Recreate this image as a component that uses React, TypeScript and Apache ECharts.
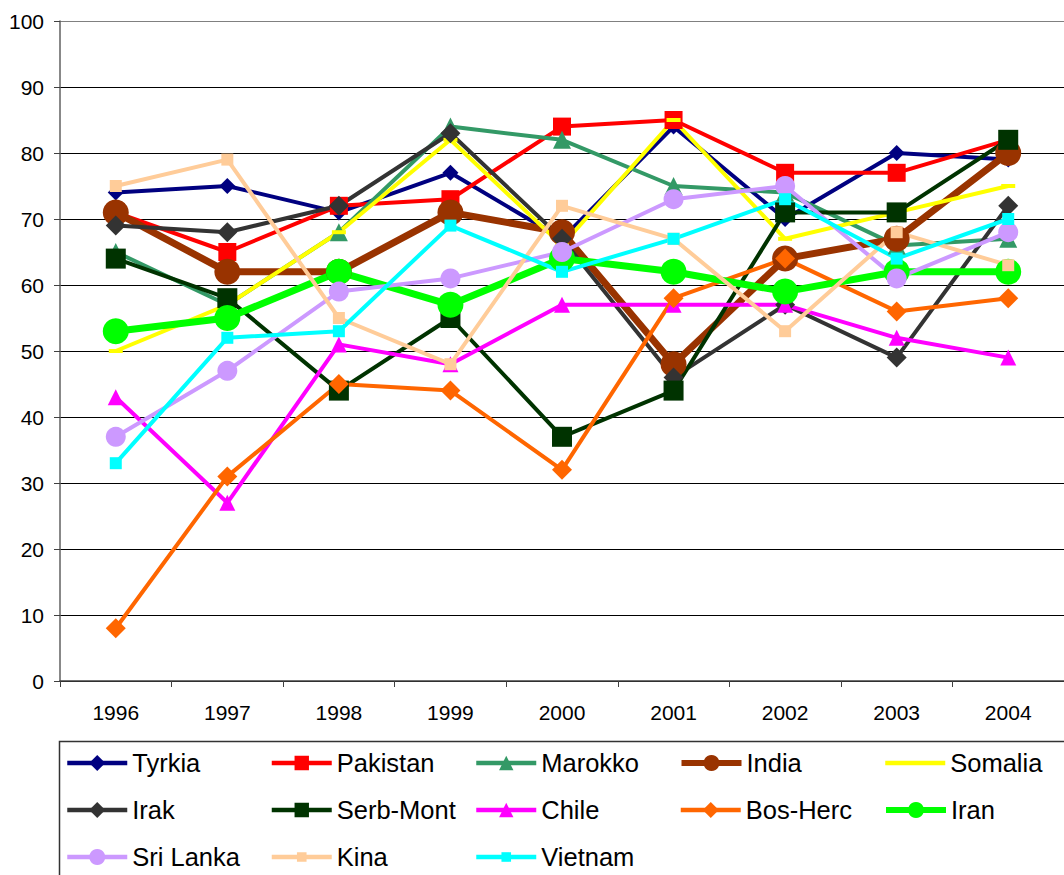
import React, { useEffect, useRef } from "react";
import * as echarts from "echarts";

const years = ["1996", "1997", "1998", "1999", "2000", "2001", "2002", "2003", "2004"];
const yTicks = { min: 0, max: 100, interval: 10 };

const names = ["Tyrkia", "Pakistan", "Marokko", "India", "Somalia", "Irak", "Serb-Mont", "Chile", "Bos-Herc", "Iran", "Sri Lanka", "Kina", "Vietnam"];

const tyrkia = [74, 75, 71, 77, 67, 84, 70, 80, 79];
const pakistan = [71, 65, 72, 73, 84, 85, 77, 77, 82];
const marokko = [65, 57, 68, 84, 82, 75, 74, 66, 67];
const india = [71, 62, 62, 71, 68, 48, 64, 67, 80];
const somalia = [50, 57, 68, 82, 66, 85, 67, 71, 75];
const irak = [69, 68, 72, 83, 67, 46, 57, 49, 72];
const serbMont = [64, 58, 44, 55, 37, 44, 71, 71, 82];
const chile = [43, 27, 51, 48, 57, 57, 57, 52, 49];
const bosHerc = [8, 31, 45, 44, 32, 58, 64, 56, 58];
const iran = [53, 55, 62, 57, 64, 62, 59, 62, 62];
const sriLanka = [37, 47, 59, 61, 65, 73, 75, 61, 68];
const kina = [75, 79, 55, 48, 72, 67, 53, 68, 63];
const vietnam = [33, 52, 53, 69, 62, 67, 73, 64, 70];

const seriesData = [tyrkia, pakistan, marokko, india, somalia, irak, serbMont, chile, bosHerc, iran, sriLanka, kina, vietnam];

const styles: { color: string; symbol: string; size: number | number[]; width: number; legendSize: number; legendMarker: boolean }[] = [
  { color: "#000080", symbol: "diamond", size: 16, width: 4, legendSize: 20, legendMarker: true },
  { color: "#FF0000", symbol: "rect", size: 18, width: 4, legendSize: 18, legendMarker: true },
  { color: "#339966", symbol: "triangle", size: 18, width: 4, legendSize: 18, legendMarker: true },
  { color: "#993300", symbol: "circle", size: 26, width: 7, legendSize: 20, legendMarker: true },
  { color: "#FFFF00", symbol: "rect", size: [14, 4], width: 4, legendSize: 16, legendMarker: false },
  { color: "#333333", symbol: "diamond", size: 20, width: 4, legendSize: 20, legendMarker: true },
  { color: "#003300", symbol: "rect", size: 20, width: 4, legendSize: 18, legendMarker: true },
  { color: "#FF00FF", symbol: "triangle", size: 16, width: 4, legendSize: 18, legendMarker: true },
  { color: "#FF6600", symbol: "diamond", size: 20, width: 4, legendSize: 20, legendMarker: true },
  { color: "#00FF00", symbol: "circle", size: 26, width: 7, legendSize: 20, legendMarker: true },
  { color: "#CC99FF", symbol: "circle", size: 20, width: 4, legendSize: 20, legendMarker: true },
  { color: "#FFCC99", symbol: "rect", size: 12, width: 4, legendSize: 12, legendMarker: true },
  { color: "#00FFFF", symbol: "rect", size: 12, width: 4, legendSize: 12, legendMarker: true },
];

const FONT = "'Liberation Sans', Arial, sans-serif";

export default function App() {
  const ref = useRef<HTMLDivElement>(null);
  useEffect(() => {
    document.body.style.margin = "0";
    const chart = echarts.init(ref.current!, null, { renderer: "svg" });
    const series = names.map((name, i) => ({
      name,
      type: "line",
      data: seriesData[i],
      symbol: styles[i].symbol,
      symbolSize: styles[i].size,
      showSymbol: true,
      lineStyle: { color: styles[i].color, width: styles[i].width },
      itemStyle: { color: styles[i].color },
      emphasis: { disabled: true },
    }));
    const legends = names.map((name, i) => ({
      data: [name],
      left: 65 + (i % 5) * 204.5,
      top: 750 + Math.floor(i / 5) * 47,
      itemWidth: 60,
      itemHeight: styles[i].legendSize,
      padding: 0,
      selectedMode: false,
      lineStyle: { width: Math.max(4.5, Math.min(styles[i].width, 6)) },
      itemStyle: styles[i].legendMarker ? {} : { opacity: 0 },
      textStyle: { fontSize: 25.5, fontFamily: FONT, color: "#000" },
    }));
    const splitCount = yTicks.max / yTicks.interval;
    const gridColors: string[] = [];
    for (let k = 0; k <= splitCount; k++) gridColors.push(k === splitCount ? "#808080" : "#000000");
    chart.setOption({
      animation: false,
      backgroundColor: "#fff",
      textStyle: { fontFamily: FONT },
      grid: { left: 60, top: 21, right: -13, bottom: 194, containLabel: false },
      xAxis: {
        type: "category",
        data: years,
        boundaryGap: true,
        axisLine: { lineStyle: { color: "#404040", width: 1.5 } },
        axisTick: { show: true, length: 6, lineStyle: { color: "#404040" } },
        axisLabel: { fontSize: 21, color: "#000", margin: 21, fontFamily: FONT },
        splitLine: { show: false },
      },
      yAxis: {
        type: "value",
        min: yTicks.min,
        max: yTicks.max,
        interval: yTicks.interval,
        axisLine: { show: true, lineStyle: { color: "#606060", width: 1.5 } },
        axisTick: { show: true, length: 6, lineStyle: { color: "#404040" } },
        axisLabel: { fontSize: 21, color: "#000", margin: 16, fontFamily: FONT },
        splitLine: { show: true, lineStyle: { color: gridColors, width: 1 } },
      },
      legend: legends,
      graphic: [
        {
          type: "rect",
          left: 57,
          top: 739,
          shape: { x: 0, y: 0, width: 1030, height: 160 },
          style: { fill: "none", stroke: "#333", lineWidth: 1.5 },
          silent: true,
        },
      ],
      series,
    });
    return () => chart.dispose();
  }, []);
  return <div ref={ref} style={{ width: 1064, height: 875, position: "absolute", left: 0, top: 0 }} />;
}
